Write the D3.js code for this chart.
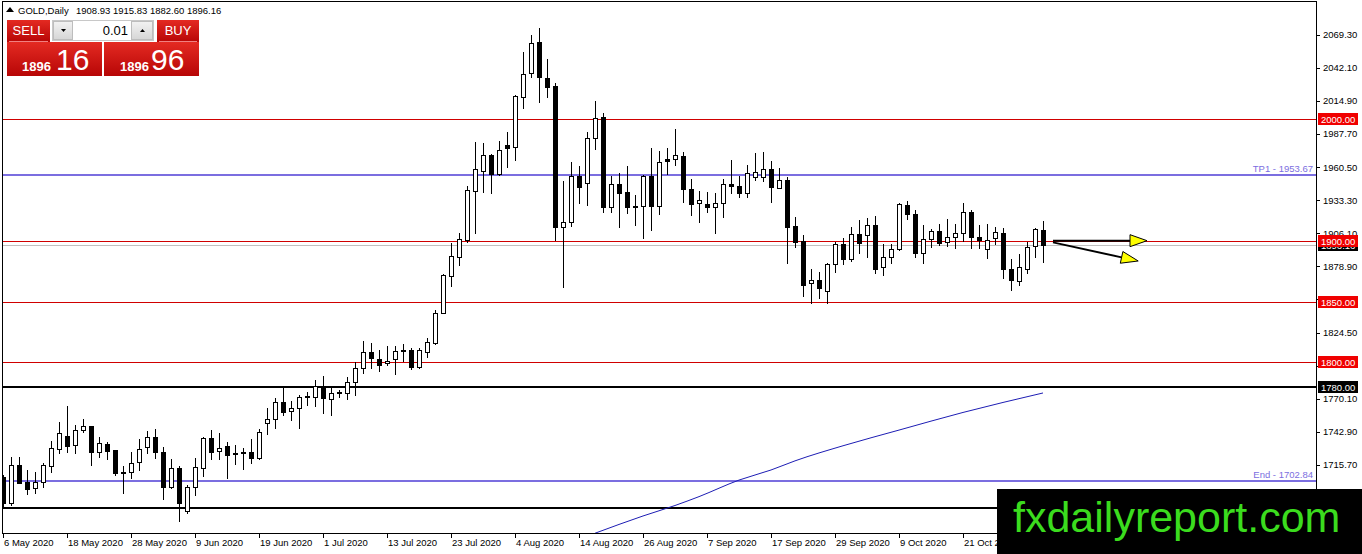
<!DOCTYPE html>
<html><head><meta charset="utf-8">
<script src="https://cdn.jsdelivr.net/npm/d3@7/dist/d3.min.js"></script>
<style>
html,body{margin:0;padding:0;background:#fff;overflow:hidden}
text{font-family:"Liberation Sans",Arial,sans-serif}
</style>
</head><body>
<svg id="c" width="1362" height="554"></svg>
<script>
// ---------------- DATA ----------------
const symbolTitle = "GOLD,Daily";
const lastOHLC = [1908.93, 1915.83, 1882.60, 1896.16];
const opens = [1706.0,1684.6,1715.3,1701.9,1696.4,1701.3,1715.0,1728.5,1739.2,1732.0,
1744.4,1747.4,1726.0,1732.6,1727.9,1709.8,1709.8,1717.8,1730.7,1738.3,
1726.0,1697.8,1713.4,1678.1,1697.2,1712.9,1737.5,1727.1,1731.0,1725.2,
1725.5,1726.0,1721.6,1749.9,1753.1,1767.4,1760.3,1762.7,1772.0,1771.8,
1780.5,1769.6,1775.3,1774.5,1783.6,1795.0,1808.2,1802.4,1799.2,1802.4,
1809.8,1810.1,1796.4,1808.7,1816.1,1840.8,1870.9,1886.8,1900.5,1941.1,
1957.5,1970.4,1954.8,1978.6,1976.7,2018.3,2037.5,2063.0,2033.4,2027.1,
1910.9,1915.6,1953.1,1947.1,1984.1,2001.4,1927.9,1946.3,1939.7,1928.5,
1928.5,1953.1,1928.5,1966.8,1966.8,1969.6,1942.2,1930.7,1929.9,1927.9,
1931.2,1946.6,1944.9,1939.4,1952.6,1952.6,1958.6,1943.0,1949.9,1912.0,
1900.0,1864.9,1867.6,1858.9,1880.8,1897.3,1884.6,1905.5,1904.6,1912.9,
1878.1,1886.3,1892.9,1929.3,1921.9,1890.1,1901.1,1907.9,1899.2,1903.3,
1906.6,1923.3,1903.3,1892.9,1901.9,1906.0,1876.4,1866.8,1876.4,1895.6,
1908.93];
const highs = [1707.4,1721.9,1722.4,1711.5,1709.8,1717.5,1735.3,1751.0,1764.1,1748.5,
1753.4,1747.4,1738.9,1734.2,1727.9,1715.0,1726.6,1737.0,1743.8,1744.9,
1730.7,1720.8,1715.0,1699.1,1721.1,1738.9,1744.4,1741.6,1734.2,1732.0,
1729.8,1737.0,1744.9,1762.2,1770.4,1778.6,1768.2,1773.1,1775.9,1785.5,
1788.8,1780.8,1777.3,1788.2,1800.5,1817.5,1816.1,1810.1,1813.4,1813.4,
1815.0,1811.5,1811.5,1819.7,1843.0,1872.5,1898.3,1906.6,1945.2,1981.4,
1979.9,1971.2,1982.2,1989.0,2019.5,2054.8,2069.0,2074.5,2049.0,2029.3,
1949.0,1964.9,1961.4,1989.6,2015.1,2005.2,1953.1,1955.3,1961.4,1937.5,
1953.6,1975.9,1974.0,1975.9,1991.8,1973.2,1950.4,1941.1,1940.3,1938.9,
1950.4,1966.3,1953.1,1962.2,1972.3,1973.2,1965.8,1959.4,1952.6,1919.2,
1904.7,1876.4,1874.5,1881.9,1899.2,1901.9,1911.5,1917.0,1918.4,1920.3,
1897.2,1897.2,1930.6,1932.9,1925.2,1912.9,1909.3,1913.7,1917.5,1913.7,
1930.7,1925.2,1912.9,1913.7,1911.0,1910.1,1884.6,1889.0,1899.2,1910.1,
1915.83];
const lows = [1681.0,1682.7,1700.5,1691.5,1692.3,1697.8,1710.1,1725.7,1726.6,1725.2,
1743.0,1715.6,1722.4,1720.8,1707.4,1692.9,1704.6,1711.5,1725.2,1721.1,
1687.9,1696.4,1669.8,1676.4,1690.9,1706.5,1720.5,1720.5,1704.6,1716.1,
1712.0,1717.0,1720.2,1741.1,1745.7,1756.7,1752.6,1745.7,1764.9,1764.4,
1758.6,1756.7,1771.8,1769.6,1773.1,1790.9,1795.0,1793.1,1797.8,1790.4,
1801.3,1794.2,1795.0,1804.6,1815.0,1840.3,1862.7,1880.0,1899.2,1906.0,
1940.3,1938.9,1954.0,1960.3,1966.3,2008.8,2034.2,2014.2,2018.3,1900.5,
1862.2,1912.0,1931.2,1929.3,1975.0,1923.8,1923.8,1910.9,1923.0,1912.9,
1901.9,1908.8,1921.9,1954.8,1962.2,1932.0,1921.1,1915.6,1923.8,1906.0,
1919.2,1939.4,1935.6,1935.6,1949.8,1949.3,1932.0,1943.0,1881.9,1895.1,
1854.5,1849.0,1852.6,1848.5,1874.5,1880.8,1883.3,1889.6,1886.3,1873.7,
1871.8,1881.4,1892.3,1917.5,1886.3,1881.9,1895.1,1896.4,1895.6,1893.7,
1900.0,1893.7,1893.7,1885.5,1897.2,1869.0,1859.4,1863.5,1873.1,1886.3,
1882.60];
const closes = [1684.1,1715.6,1701.1,1696.1,1701.3,1715.6,1729.3,1741.6,1731.5,1744.4,
1747.4,1726.0,1733.4,1727.4,1709.3,1708.7,1716.9,1728.7,1738.3,1726.6,
1697.8,1713.4,1684.6,1697.2,1713.7,1737.5,1726.6,1729.3,1724.1,1724.7,
1726.3,1721.6,1742.5,1753.1,1767.4,1759.4,1762.7,1771.2,1771.8,1780.5,
1770.4,1775.0,1774.8,1783.6,1795.0,1808.2,1803.3,1797.8,1801.3,1809.3,
1809.0,1796.4,1810.1,1817.0,1840.8,1871.8,1887.4,1901.1,1941.6,1958.6,
1970.4,1954.8,1974.5,1976.4,2018.9,2036.7,2062.2,2034.2,2026.6,1910.9,
1915.6,1953.1,1943.8,1984.1,2001.0,1927.9,1946.3,1939.4,1927.9,1927.4,
1953.1,1928.5,1964.4,1965.8,1970.4,1942.2,1929.9,1933.4,1927.9,1930.7,
1946.3,1944.9,1939.4,1955.9,1956.7,1958.6,1943.8,1949.9,1911.5,1899.2,
1863.5,1867.6,1860.8,1880.8,1897.3,1885.2,1905.5,1898.4,1912.9,1876.4,
1886.3,1892.9,1930.1,1921.9,1890.1,1901.1,1907.9,1898.4,1903.3,1906.0,
1923.8,1903.3,1900.5,1900.5,1906.8,1876.4,1867.6,1878.6,1895.1,1909.3,
1896.16];

const dateTickIndex = [0,8,16,24,32,40,48,56,64,72,80,88,96,104,112,120,128];
const dateTickLabels = ["6 May 2020","18 May 2020","28 May 2020","9 Jun 2020","19 Jun 2020",
  "1 Jul 2020","13 Jul 2020","23 Jul 2020","4 Aug 2020","14 Aug 2020","26 Aug 2020",
  "7 Sep 2020","17 Sep 2020","29 Sep 2020","9 Oct 2020","21 Oct 2020","2 Nov 2020"];
const priceTicks = [2069.30,2042.10,2014.90,1987.70,1960.50,1933.30,1906.10,1878.90,
  1851.70,1824.50,1797.30,1770.10,1742.90,1715.70];

const redLevels = [2000, 1900, 1850, 1800];
const blackLevels = [1780, 1680.5];
const blackLevelLabelled = [true, false];
const targetNames = ["TP1", "End"];
const targetPrices = [1953.67, 1702.84];
const bidPrice = 1896.16;

// moving average readings (bar index, value)
const maIndex = [74, 80, 84, 87, 92, 96, 99, 105, 112, 120, 130];
const maValues = [1659.5, 1673.7, 1682.3, 1689.6, 1703.2, 1711.5, 1719.0, 1731.4, 1744.3, 1758.8, 1774.8];

// projection arrows: start bar, start price, end bar, end price
const arrowStartIdx = [131.25, 131.25];
const arrowStartPrice = [1900.0, 1898.6];
const arrowEndIdx = [143.0, 141.9];
const arrowEndPrice = [1900.0, 1883.3];

const sellBig = ["1896", "16"];
const buyBig = ["1896", "96"];
const lotSize = "0.01";
const watermark = "fxdailyreport.com";

// ---------------- CHART ----------------
const W = 1362, H = 554;
const FS = 9.5;
const plot = {left: 2, top: 1, right: 1316, bottom: 533};
const svg = d3.select("#c");

const x = d3.scaleLinear().domain([0, 130]).range([3, 1043]);
const y = d3.scaleLinear().domain([1659.7, 2096.2]).range([533, 2]);
const px = v => Math.round(v) + 0.5;

svg.append("rect").attr("width", W).attr("height", H).attr("fill", "#fff");

const defs = svg.append("defs");
defs.append("clipPath").attr("id", "plotclip")
  .append("rect").attr("x", plot.left).attr("y", plot.top)
  .attr("width", plot.right - plot.left).attr("height", plot.bottom - plot.top);

const g = svg.append("g").attr("clip-path", "url(#plotclip)")
  .attr("shape-rendering", "crispEdges");

// horizontal levels
g.selectAll("line.red").data(redLevels).join("line")
  .attr("x1", plot.left).attr("x2", plot.right)
  .attr("y1", d => px(y(d))).attr("y2", d => px(y(d)))
  .attr("stroke", "#d00000").attr("stroke-width", 1);

g.append("line").attr("x1", plot.left).attr("x2", plot.right)
  .attr("y1", px(y(bidPrice))).attr("y2", px(y(bidPrice)))
  .attr("stroke", "#c0c0c0").attr("stroke-width", 1);

g.selectAll("line.tgt").data(targetPrices).join("line")
  .attr("x1", plot.left).attr("x2", plot.right)
  .attr("y1", d => Math.round(y(d))).attr("y2", d => Math.round(y(d)))
  .attr("stroke", "#7b6ee0").attr("stroke-width", 2);

g.selectAll("text.tgt").data(targetPrices).join("text")
  .attr("x", plot.right - 3).attr("y", d => Math.round(y(d)) - 3)
  .attr("text-anchor", "end").attr("font-size", FS).attr("fill", "#7b6ee0")
  .text((d, i) => targetNames[i] + " - " + d.toFixed(2));

g.selectAll("line.blk").data(blackLevels).join("line")
  .attr("x1", plot.left).attr("x2", plot.right)
  .attr("y1", d => Math.round(y(d))).attr("y2", d => Math.round(y(d)))
  .attr("stroke", "#000").attr("stroke-width", 2);

// moving average
const maData = maIndex.map((d, i) => [d, maValues[i]]);
g.append("path").datum(maData)
  .attr("d", d3.line().curve(d3.curveMonotoneX).x(d => x(d[0])).y(d => y(d[1])))
  .attr("fill", "none").attr("stroke", "#1d1db4").attr("stroke-width", 1)
  .attr("shape-rendering", "auto");

// candles
const idx = d3.range(opens.length);
const cg = g.selectAll("g.candle").data(idx).join("g");
cg.append("line")
  .attr("x1", i => x(i) + 0.5).attr("x2", i => x(i) + 0.5)
  .attr("y1", i => Math.round(y(highs[i]))).attr("y2", i => Math.round(y(lows[i])) + 1)
  .attr("stroke", "#000");
cg.append("rect")
  .attr("x", i => x(i) - 1.5).attr("width", 4)
  .attr("y", i => px(y(Math.max(opens[i], closes[i]))))
  .attr("height", i => Math.max(0, Math.round(y(Math.min(opens[i], closes[i]))) - Math.round(y(Math.max(opens[i], closes[i])))))
  .attr("fill", i => closes[i] >= opens[i] ? "#fff" : "#000")
  .attr("stroke", "#000").attr("stroke-width", 1);

// arrows
const arrowG = svg.append("g");
arrowStartIdx.forEach((s, k) => {
  const x1 = x(s), y1 = y(arrowStartPrice[k]), x2 = x(arrowEndIdx[k]), y2 = y(arrowEndPrice[k]);
  const ang = Math.atan2(y2 - y1, x2 - x1);
  const L = 17, Wd = 6;
  const bx = x2 - L * Math.cos(ang), by = y2 - L * Math.sin(ang);
  arrowG.append("line").attr("x1", x1).attr("y1", y1).attr("x2", bx).attr("y2", by)
    .attr("stroke", "#000").attr("stroke-width", 2);
  const pts = [[x2, y2],
    [bx + Wd * Math.sin(ang), by - Wd * Math.cos(ang)],
    [bx - Wd * Math.sin(ang), by + Wd * Math.cos(ang)]];
  arrowG.append("polygon").attr("points", pts.map(p => p.join(",")).join(" "))
    .attr("fill", "#ffff00").attr("stroke", "#000").attr("stroke-width", 1);
});

// frame
svg.append("rect").attr("x", plot.left + 0.5).attr("y", plot.top + 0.5)
  .attr("width", plot.right - plot.left).attr("height", plot.bottom - plot.top)
  .attr("fill", "none").attr("stroke", "#000").attr("shape-rendering", "crispEdges");

// price axis
const boxLevels = redLevels.concat([bidPrice]).concat(blackLevels.filter((d, i) => blackLevelLabelled[i]));
const coveredTick = t => boxLevels.some(p => Math.abs(y(p) - y(t)) < 3.5);
const ax = svg.append("g").attr("shape-rendering", "crispEdges");
ax.selectAll("line.pt").data(priceTicks).join("line")
  .attr("x1", plot.right).attr("x2", plot.right + 4)
  .attr("y1", d => px(y(d))).attr("y2", d => px(y(d))).attr("stroke", "#000");
ax.selectAll("text.pt").data(priceTicks.filter(t => !coveredTick(t))).join("text")
  .attr("x", plot.right + 7).attr("y", d => y(d) + 3.5)
  .attr("font-size", FS).attr("fill", "#000").text(d => d.toFixed(2));

function priceBox(p, bg, fg) {
  const cy = Math.round(y(p));
  ax.append("rect").attr("x", plot.right + 2).attr("y", cy - 6).attr("width", 40).attr("height", 12).attr("fill", bg);
  ax.append("text").attr("x", plot.right + 5).attr("y", cy + 4).attr("font-size", FS)
    .attr("fill", fg).text(p.toFixed(2));
}
priceBox(bidPrice, "#000", "#fff");
blackLevels.forEach((p, i) => { if (blackLevelLabelled[i]) priceBox(p, "#000", "#fff"); });
redLevels.forEach(p => priceBox(p, "#f00000", "#fff"));

// date axis
const dx = svg.append("g");
dx.selectAll("line").data(dateTickIndex).join("line")
  .attr("x1", d => x(d) + 0.5).attr("x2", d => x(d) + 0.5)
  .attr("y1", plot.bottom).attr("y2", plot.bottom + 5).attr("stroke", "#000")
  .attr("shape-rendering", "crispEdges");
dx.selectAll("text").data(dateTickIndex).join("text")
  .attr("x", d => x(d) + 1).attr("y", 546).attr("font-size", FS).attr("fill", "#000")
  .text((d, i) => dateTickLabels[i]);

// header
svg.append("path").attr("d", "M6,12 L10,7 L14,12 Z").attr("fill", "#000");
svg.append("text").attr("x", 18).attr("y", 14).attr("font-size", FS).attr("fill", "#000")
  .text(symbolTitle);
svg.append("text").attr("x", 76).attr("y", 14).attr("font-size", FS).attr("fill", "#000")
  .text(lastOHLC.map(v => v.toFixed(2)).join(" "));

// trading panel
const grad = defs.append("linearGradient").attr("id", "redg").attr("x1", 0).attr("x2", 0).attr("y1", 0).attr("y2", 1);
grad.append("stop").attr("offset", "0%").attr("stop-color", "#e42a22");
grad.append("stop").attr("offset", "100%").attr("stop-color", "#b70606");
const grad2 = defs.append("linearGradient").attr("id", "greyg").attr("x1", 0).attr("x2", 0).attr("y1", 0).attr("y2", 1);
grad2.append("stop").attr("offset", "0%").attr("stop-color", "#f2f2f2");
grad2.append("stop").attr("offset", "100%").attr("stop-color", "#d6d6d6");

const tp = svg.append("g");
// SELL
tp.append("rect").attr("x", 7).attr("y", 20).attr("width", 43).attr("height", 22).attr("fill", "url(#redg)");
tp.append("rect").attr("x", 7).attr("y", 42).attr("width", 95).attr("height", 34).attr("fill", "url(#redg)");
tp.append("line").attr("x1", 9).attr("x2", 48).attr("y1", 41.5).attr("y2", 41.5).attr("stroke", "#f08080");
tp.append("text").attr("x", 28.5).attr("y", 35).attr("text-anchor", "middle").attr("font-size", 13).attr("fill", "#fff").text("SELL");
tp.append("text").attr("x", 22).attr("y", 71).attr("font-size", 13).attr("font-weight", "bold").attr("fill", "#fff").text(sellBig[0]);
tp.append("text").attr("x", 56).attr("y", 70).attr("font-size", 30).attr("fill", "#fff").text(sellBig[1]);
// BUY
tp.append("rect").attr("x", 157).attr("y", 20).attr("width", 42).attr("height", 22).attr("fill", "url(#redg)");
tp.append("rect").attr("x", 104).attr("y", 42).attr("width", 95).attr("height", 34).attr("fill", "url(#redg)");
tp.append("line").attr("x1", 159).attr("x2", 197).attr("y1", 41.5).attr("y2", 41.5).attr("stroke", "#f08080");
tp.append("text").attr("x", 178).attr("y", 35).attr("text-anchor", "middle").attr("font-size", 13).attr("fill", "#fff").text("BUY");
tp.append("text").attr("x", 120).attr("y", 71).attr("font-size", 13).attr("font-weight", "bold").attr("fill", "#fff").text(buyBig[0]);
tp.append("text").attr("x", 151).attr("y", 70).attr("font-size", 30).attr("fill", "#fff").text(buyBig[1]);
// lot spinner
tp.append("rect").attr("x", 52.5).attr("y", 20.5).attr("width", 101).attr("height", 20).attr("fill", "#fff").attr("stroke", "#c8c8c8");
tp.append("rect").attr("x", 53.5).attr("y", 21.5).attr("width", 19).attr("height", 18).attr("fill", "url(#greyg)").attr("stroke", "#bdbdbd");
tp.append("rect").attr("x", 131.5).attr("y", 21.5).attr("width", 21).attr("height", 18).attr("fill", "url(#greyg)").attr("stroke", "#bdbdbd");
tp.append("path").attr("d", "M61,29 L66,29 L63.5,32 Z").attr("fill", "#000");
tp.append("path").attr("d", "M140,32 L145,32 L142.5,29 Z").attr("fill", "#000");
tp.append("text").attr("x", 128).attr("y", 35).attr("text-anchor", "end").attr("font-size", 13).attr("fill", "#000").text(lotSize);

// watermark
svg.append("rect").attr("x", 997).attr("y", 489).attr("width", 365).attr("height", 65).attr("fill", "#000");
svg.append("text").attr("x", 1013).attr("y", 532).attr("font-size", 43)
  .attr("fill", "#3bdc1e").text(watermark);
</script>
</body></html>
